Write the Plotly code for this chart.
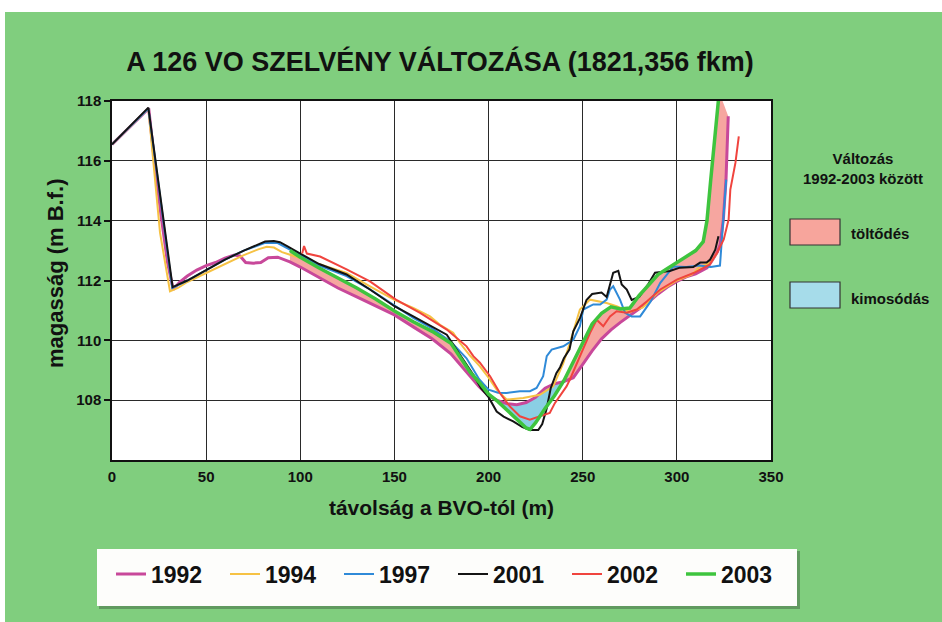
import plotly.graph_objects as go

# ---------------- data ----------------
x_1992 = [0, 19.5, 22, 26, 29.5, 32.5, 36, 40, 45, 50, 55, 60, 65, 68, 71, 75, 79, 83, 88, 94.5,
          100, 110, 120, 130, 140, 150, 160, 170, 180, 190, 195, 200, 205, 210, 215, 220, 225, 230, 235, 240,
          245, 250, 255, 260, 265, 270, 275, 280, 285, 290, 295, 300, 305, 310, 314, 316, 318, 320, 321.5, 323,
          324.7, 326.1, 326.8, 327.3]
y_1992 = [116.55, 117.75, 116.3, 114.2, 112.6, 111.7, 111.95, 112.15, 112.35, 112.5, 112.6, 112.75, 112.85, 112.82, 112.6, 112.58, 112.6, 112.76, 112.78, 112.62,
          112.45, 112.1, 111.75, 111.45, 111.15, 110.85, 110.45, 110.05, 109.55, 108.8, 108.45, 108.15, 107.98, 107.88, 107.85, 107.92, 108.1, 108.4, 108.55, 108.62,
          108.75, 109.2, 109.65, 110.05, 110.35, 110.6, 110.82, 111.05, 111.28, 111.55, 111.78, 111.97, 112.12, 112.22, 112.35, 112.42, 112.6, 112.8, 112.95, 113.2,
          114.04, 115.37, 116.49, 117.49]

x_1994 = [0, 19.3, 25.5, 30.8, 35, 40, 50, 60, 70, 78, 82.2, 86, 90.3, 95, 100, 110, 124.6, 137, 150, 160,
          168.9, 174.2, 181.2, 184.8, 190, 195.4, 200, 204.3, 209.6, 218.4, 227.2, 234.3, 239.7, 243.2, 248.5, 253.9, 262.7, 268, 275, 282,
          290, 300, 308, 312, 318, 321.3]
y_1994 = [116.55, 117.75, 113.6, 111.64, 111.75, 111.95, 112.25, 112.55, 112.85, 113.05, 113.13, 113.1, 112.95, 112.85, 112.75, 112.55, 112.25, 111.8, 111.35, 111.08,
          110.8, 110.52, 110.25, 109.91, 109.5, 109.13, 108.75, 108.35, 108.02, 108.07, 108.18, 108.46, 109.24, 109.91, 111.03, 111.36, 111.25, 111.14, 110.95, 111.1,
          111.6, 112.0, 112.2, 112.45, 112.6, 112.92]

x_1997 = [0, 19.3, 32, 40, 50, 60, 70, 81, 88, 95, 100, 110, 124.6, 137, 150, 160, 170, 180, 188.3, 195,
          200, 205, 209.6, 216.6, 222, 225.5, 229, 230.9, 233.5, 239.7, 245, 248.5, 250.3, 255.6, 259.3, 262.7, 264.5, 266.2, 269.8, 272.5,
          276, 280.5, 286.1, 291.2, 298.2, 305, 312, 318, 322.9, 324.3, 325.5, 326.2]
y_1997 = [116.55, 117.75, 111.75, 112.0, 112.35, 112.7, 113.0, 113.25, 113.25, 113.0, 112.85, 112.5, 112.15, 111.7, 111.15, 110.75, 110.4, 109.95, 109.4, 108.7,
          108.35, 108.25, 108.24, 108.3, 108.3, 108.41, 108.8, 109.47, 109.69, 109.8, 110.02, 110.47, 111.03, 111.2, 111.2, 111.36, 111.7, 111.81, 111.36, 110.92,
          110.8, 110.8, 111.3, 111.92, 112.47, 112.45, 112.5, 112.45, 112.5, 113.7, 114.82, 115.37]

x_2001 = [0, 19.3, 32.2, 40, 50, 60, 70, 81.3, 86, 89.2, 93, 96.3, 100, 110, 124.6, 137, 150, 160, 170, 177.8,
          185, 191.9, 196, 200, 204.3, 208, 213.1, 218, 222, 226.4, 228.5, 230.9, 233, 236, 238, 240, 243, 245, 248.6, 252,
          255, 260, 262.7, 266.2, 268.9, 270.7, 273.4, 276, 280, 285, 288.4, 296.3, 301.6, 308.7, 312.4, 315.8, 317.7, 320.4, 322.1]
y_2001 = [116.55, 117.78, 111.78, 112.0, 112.35, 112.7, 113.0, 113.3, 113.32, 113.28, 113.15, 113.04, 112.9, 112.55, 112.2, 111.7, 111.14, 110.8, 110.45, 110.19,
          109.5, 108.85, 108.4, 108.1, 107.62, 107.45, 107.29, 107.1, 107.0, 107.0, 107.2, 107.73, 108.4, 108.9, 109.1, 109.4, 109.7, 110.3, 110.75, 111.35,
          111.55, 111.6, 111.45, 112.26, 112.32, 111.87, 111.7, 111.35, 111.45, 111.9, 112.26, 112.32, 112.43, 112.45, 112.6, 112.6, 112.7, 113.03, 113.48]

x_2002 = [101, 102, 103.5, 107, 110.5, 124.6, 137, 150.8, 163.6, 177.8, 188.3, 191.9, 195.4, 200.8, 206, 211.3, 216.6, 221.9, 227.2, 232.5,
          235.2, 237.9, 241.4, 243.2, 248.6, 253.9, 257.4, 260.9, 264.5, 268, 273.4, 278.7, 284, 291.2, 300, 308.9, 317.4, 321.3, 324.9, 327.5,
          328.4, 331.1, 332.9]
y_2002 = [112.9, 113.15, 112.9, 112.85, 112.8, 112.37, 111.97, 111.36, 110.92, 110.36, 109.8, 109.47, 109.25, 108.8, 108.24, 107.79, 107.46, 107.35, 107.46, 107.57,
          107.9, 108.13, 108.46, 108.69, 109.5, 110.25, 110.69, 110.47, 110.8, 110.97, 110.92, 111.03, 111.3, 111.7, 112.03, 112.25, 112.53, 112.92, 113.37, 114.04,
          115.04, 115.93, 116.82]

x_2003 = [94.5, 100, 110, 120, 130, 140, 150, 160, 170, 180, 190, 195, 200, 205, 210, 215, 220, 222, 225, 230,
          235, 240, 245, 250, 255, 260, 265, 270, 275, 280, 285, 290, 295, 300, 305, 310, 314, 316, 318, 320,
          321.5, 322.5]
y_2003 = [113.0, 112.78, 112.42, 112.1, 111.75, 111.38, 110.98, 110.62, 110.3, 109.9, 108.95, 108.6, 108.2, 107.95, 107.65, 107.35, 107.07, 107.02, 107.25, 107.72,
          108.15, 108.65, 109.3, 109.9, 110.55, 110.9, 111.12, 111.05, 111.08, 111.5, 111.85, 112.2, 112.4, 112.59, 112.78, 113.0, 113.3, 114.0, 115.37, 116.7,
          117.85, 118.3]

years = ["1992", "1994", "1997", "2001", "2002", "2003"]
series_x = [x_1992, x_1994, x_1997, x_2001, x_2002, x_2003]
series_y = [y_1992, y_1994, y_1997, y_2001, y_2002, y_2003]
colors = ["#C8489A", "#F6C244", "#2F8AD8", "#141414", "#F0443E", "#3EC43E"]
widths = [3, 2, 2, 2, 2, 3.5]

x_ticks = [0, 50, 100, 150, 200, 250, 300, 350]
y_ticks = [108, 110, 112, 114, 116, 118]

FILL_UP = "#F6A6A0"    # töltődés
FILL_DOWN = "#8ACFE4"  # kimosódás
BG = "#80CE7E"
FONT = "Liberation Sans, Arial, sans-serif"

# ---------------- fill between 1992 and 2003 ----------------
p = dict(zip(x_1992, y_1992))
g = dict(zip(x_2003, y_2003))
shared = [x for x in x_2003 if x in p]
cuts = []
for a, b in zip(shared[:-1], shared[1:]):
    da, db = g[a] - p[a], g[b] - p[b]
    if da * db < 0:
        t = da / (da - db)
        cuts.append((a + t * (b - a), p[a] + t * (p[b] - p[a])))
bounds = [shared[0]] + [c[0] for c in cuts] + [1e9]

fig = go.Figure()
for i in range(len(bounds) - 1):
    lo, hi = bounds[i], bounds[i + 1]
    px_ = [x for x in x_1992 if lo <= x < hi]
    py_ = [p[x] for x in px_]
    gx_ = [x for x in x_2003 if lo <= x < hi]
    gy_ = [g[x] for x in gx_]
    if i > 0:
        px_ = [cuts[i - 1][0]] + px_; py_ = [cuts[i - 1][1]] + py_
        gx_ = [cuts[i - 1][0]] + gx_; gy_ = [cuts[i - 1][1]] + gy_
    if i < len(cuts):
        px_ = px_ + [cuts[i][0]]; py_ = py_ + [cuts[i][1]]
        gx_ = gx_ + [cuts[i][0]]; gy_ = gy_ + [cuts[i][1]]
    inner = [x for x in shared if lo < x < hi]
    up = sum(g[x] - p[x] for x in inner) > 0
    fig.add_trace(go.Scatter(x=px_, y=py_, mode="lines", line=dict(width=0),
                             showlegend=False, hoverinfo="skip"))
    fig.add_trace(go.Scatter(x=gx_, y=gy_, mode="lines", line=dict(width=0),
                             fill="tonexty", fillcolor=FILL_UP if up else FILL_DOWN,
                             showlegend=False, hoverinfo="skip"))

for name, xs, ys, c, w in zip(years, series_x, series_y, colors, widths):
    fig.add_trace(go.Scatter(x=xs, y=ys, mode="lines", name=name,
                             line=dict(color=c, width=w)))

# ---------------- layout helpers (pixel -> paper) ----------------
L, R, T, B = 112, 771, 101, 460
PW, PH = R - L, B - T
def px(v): return (v - L) / PW
def py(v): return (B - v) / PH

shapes = [
    dict(type="rect", xref="paper", yref="paper", x0=-0.3, x1=1.4, y0=py(12), y1=py(-10),
         fillcolor="white", line=dict(width=0), layer="above"),
    dict(type="rect", xref="paper", yref="paper", x0=-0.3, x1=px(5), y0=py(640), y1=py(-10),
         fillcolor="white", line=dict(width=0), layer="above"),
    dict(type="rect", xref="paper", yref="paper", x0=px(99), x1=px(800), y0=py(609), y1=py(551),
         fillcolor="rgba(60,90,60,0.45)", line=dict(width=0), layer="above"),
    dict(type="rect", xref="paper", yref="paper", x0=px(97), x1=px(797), y0=py(606), y1=py(549),
         fillcolor="#FDFDFB", line=dict(width=0), layer="above"),
    dict(type="rect", xref="paper", yref="paper", x0=px(790), x1=px(840), y0=py(245), y1=py(219),
         fillcolor="#F7A59C", line=dict(color="#333", width=1.2), layer="above"),
    dict(type="rect", xref="paper", yref="paper", x0=px(790), x1=px(840), y0=py(308), y1=py(282),
         fillcolor="#A6DCEA", line=dict(color="#333", width=1.2), layer="above"),
]

ann_font = dict(family=FONT, size=15, color="#111", weight="bold")
annotations = [
    dict(xref="paper", yref="paper", x=px(863), y=py(168), text="Változás<br>1992-2003 között",
         showarrow=False, xanchor="center", yanchor="middle", font=ann_font, align="center"),
    dict(xref="paper", yref="paper", x=px(849), y=py(234), text="töltődés",
         showarrow=False, xanchor="left", yanchor="middle", font=ann_font),
    dict(xref="paper", yref="paper", x=px(849), y=py(298), text="kimosódás",
         showarrow=False, xanchor="left", yanchor="middle", font=ann_font),
    dict(xref="paper", yref="paper", x=px(55), y=py(273), text="magasság (m B.f.)",
         textangle=-90, showarrow=False, xanchor="center", yanchor="middle",
         font=dict(family=FONT, size=22, color="#111", weight="bold")),
]

fig.update_layout(
    width=942, height=622,
    margin=dict(l=L, r=942 - R, t=T, b=622 - B),
    paper_bgcolor=BG, plot_bgcolor="white",
    font=dict(family=FONT, color="#111"),
    title=dict(text="A 126 VO SZELVÉNY VÁLTOZÁSA (1821,356 fkm)",
               x=440 / 942, xanchor="center", y=1 - 62 / 622, yanchor="middle",
               font=dict(family=FONT, size=27, color="#111", weight="bold")),
    xaxis=dict(range=[0, 350], tickvals=x_ticks, ticks="", showgrid=True,
               gridcolor="#2a2a2a", gridwidth=1, showline=True, mirror=True,
               linecolor="#111", linewidth=1.5, zeroline=False, ticklabelstandoff=2,
               tickfont=dict(family=FONT, size=15, color="#111", weight="bold"),
               title=dict(text="távolság a BVO-tól (m)", standoff=17,
                          font=dict(family=FONT, size=21, color="#111", weight="bold"))),
    yaxis=dict(range=[106, 118], tickvals=y_ticks, ticks="outside", ticklen=6,
               tickcolor="#111", tickwidth=1.5, showgrid=True,
               gridcolor="#2a2a2a", gridwidth=1, showline=True, mirror=True,
               linecolor="#111", linewidth=1.5, zeroline=False,
               tickfont=dict(family=FONT, size=15, color="#111", weight="bold")),
    legend=dict(orientation="h", traceorder="normal", x=px(111), xanchor="left",
                y=py(574), yanchor="middle",
                bgcolor="rgba(0,0,0,0)", borderwidth=0, entrywidthmode="pixels", entrywidth=69,
                font=dict(family=FONT, size=23, color="#111", weight="bold")),
    shapes=shapes, annotations=annotations,
    showlegend=True,
)

fig.write_html("out.html", config={"displayModeBar": False},
               post_script="document.body.style.margin='0';")
